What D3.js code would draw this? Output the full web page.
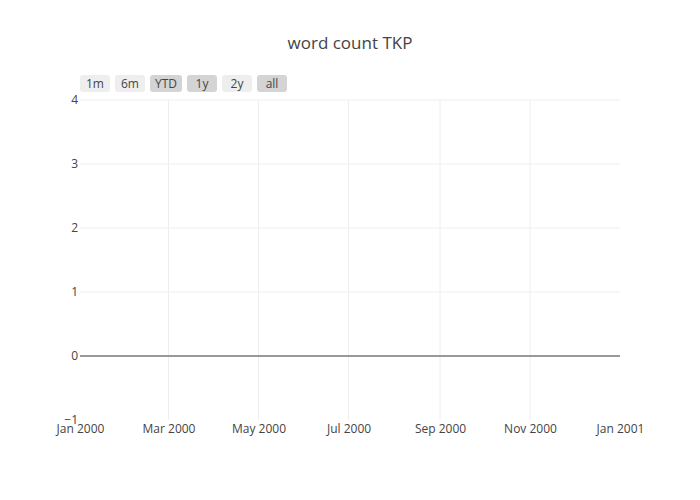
<!DOCTYPE html>
<html>
<head>
<meta charset="utf-8">
<script src="https://cdn.jsdelivr.net/npm/d3@7"></script>
<style>
  body { margin: 0; background: #fff; }
  text { font-family: "Open Sans", sans-serif; }
</style>
</head>
<body>
<div id="chart"></div>
<script>
const chartTitle = "word count TKP";
const xDomain = [new Date(2000, 0, 1), new Date(2001, 0, 1)];
const yDomain = [-1, 4];
const yTicks = [-1, 0, 1, 2, 3, 4];
const xTicks = [new Date(2000, 0, 1), new Date(2000, 2, 1), new Date(2000, 4, 1),
  new Date(2000, 6, 1), new Date(2000, 8, 1), new Date(2000, 10, 1), new Date(2001, 0, 1)];
const buttonLabels = ["1m", "6m", "YTD", "1y", "2y", "all"];
const buttonActive = [false, false, true, true, false, true];
const wordCounts = []; // no points in the series

const width = 700, height = 500;
const margin = { top: 100, right: 80, bottom: 80, left: 80 };
const w = width - margin.left - margin.right;
const h = height - margin.top - margin.bottom;

const svg = d3.select("#chart").append("svg")
  .attr("width", width)
  .attr("height", height);

const g = svg.append("g")
  .attr("transform", `translate(${margin.left},${margin.top})`);

const x = d3.scaleTime().domain(xDomain).range([0, w]);
const y = d3.scaleLinear().domain(yDomain).range([h, 0]);

// grid
g.selectAll(".xgrid")
  .data(xTicks.slice(1, -1))
  .join("line")
  .attr("x1", d => x(d)).attr("x2", d => x(d))
  .attr("y1", 0).attr("y2", h)
  .attr("stroke", "#eee").attr("stroke-width", 1);

g.selectAll(".ygrid")
  .data(yTicks.filter(d => d !== 0 && d !== yDomain[0]))
  .join("line")
  .attr("x1", 0).attr("x2", w)
  .attr("y1", d => y(d)).attr("y2", d => y(d))
  .attr("stroke", "#eee").attr("stroke-width", 1);

// zero line
g.append("line")
  .attr("x1", 0).attr("x2", w)
  .attr("y1", y(0)).attr("y2", y(0))
  .attr("stroke", "#999").attr("stroke-width", 2);

// series (empty)
g.append("path")
  .datum(wordCounts)
  .attr("fill", "none")
  .attr("stroke", "#1f77b4")
  .attr("d", d3.line().x(d => x(d.date)).y(d => y(d.count)));

// axes
const xAxis = g.append("g")
  .attr("transform", `translate(0,${h})`)
  .call(d3.axisBottom(x).tickValues(xTicks).tickSize(0).tickPadding(4)
    .tickFormat(d3.timeFormat("%b %Y")));
const yAxis = g.append("g")
  .call(d3.axisLeft(y).tickValues(yTicks).tickSize(0).tickPadding(2)
    .tickFormat(d => d < 0 ? "\u2212" + Math.abs(d) : d));

[xAxis, yAxis].forEach(a => {
  a.select(".domain").remove();
  a.selectAll("text")
    .attr("fill", "#444")
    .style("font-size", "12px")
    .style("font-family", "'Open Sans', sans-serif");
});

// title
svg.append("text")
  .attr("x", width / 2)
  .attr("y", 49)
  .attr("text-anchor", "middle")
  .attr("fill", "#444")
  .style("font-size", "17px")
  .text(chartTitle);

// range selector buttons
const btnW = [30, 30, 32, 30, 30, 30];
let bx = margin.left;
const btns = svg.append("g");
buttonLabels.forEach((lab, i) => {
  const b = btns.append("g").attr("transform", `translate(${bx},75)`);
  b.append("rect")
    .attr("width", btnW[i]).attr("height", 17)
    .attr("rx", 3)
    .attr("fill", buttonActive[i] ? "#d4d4d4" : "#eee");
  b.append("text")
    .attr("x", btnW[i] / 2).attr("y", 13)
    .attr("text-anchor", "middle")
    .attr("fill", "#444")
    .style("font-size", "12px")
    .text(lab);
  bx += btnW[i] + 5;
});
</script>
</body>
</html>
